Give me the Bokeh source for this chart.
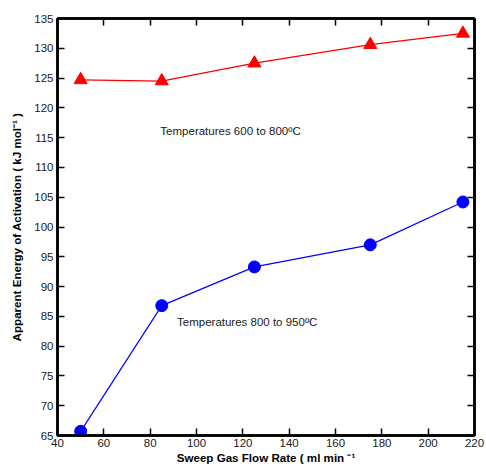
from bokeh.plotting import figure
from bokeh.models import LinearAxis, Label, FixedTicker, Range1d
from bokeh.embed import file_html
from bokeh.resources import INLINE

flow_rates = [50, 85, 125, 175, 215]
energy_600_800 = [124.7, 124.5, 127.5, 130.6, 132.5]
energy_800_950 = [65.7, 86.8, 93.3, 97.0, 104.2]
x_ticks = [40, 60, 80, 100, 120, 140, 160, 180, 200, 220]
y_ticks = [65, 70, 75, 80, 85, 90, 95, 100, 105, 110, 115, 120, 125, 130, 135]

FONT = "Liberation Sans"

p = figure(width=486, height=466, output_backend="svg", toolbar_location=None,
           x_range=Range1d(40, 220), y_range=Range1d(65, 135),
           min_border_left=57, min_border_right=12, min_border_top=18, min_border_bottom=31,
           background_fill_color="white", border_fill_color="white")
p.grid.visible = False
p.outline_line_color = "black"
p.outline_line_width = 2.5

def style_axis(ax, labels=True):
    ax.axis_line_width = 2.5
    ax.axis_line_color = "black"
    ax.major_tick_in = 7
    ax.major_tick_out = 0
    ax.major_tick_line_width = 1.5
    ax.major_tick_line_color = "black"
    ax.minor_tick_line_color = None
    ax.major_label_text_font = FONT
    ax.major_label_text_color = "#1a1a1a"
    ax.major_label_text_font_size = "11.5px"
    ax.axis_label_text_font = FONT
    ax.axis_label_text_font_size = "11.6px"
    ax.axis_label_text_font_style = "bold"
    ax.axis_label_text_color = "black"
    if not labels:
        ax.major_label_overrides = {t: "" for t in ax.ticker.ticks}
        ax.major_label_standoff = 0

p.xaxis.ticker = FixedTicker(ticks=x_ticks)
p.yaxis.ticker = FixedTicker(ticks=y_ticks)
style_axis(p.xaxis[0])
style_axis(p.yaxis[0])
p.yaxis[0].major_label_standoff = 4
p.yaxis[0].axis_label = "Apparent Energy of Activation ( kJ mol\u207b\u00b9 )"
p.yaxis[0].axis_label_standoff = 8
p.xaxis[0].major_label_standoff = 3
p.xaxis[0].axis_label = "Sweep Gas Flow Rate ( ml min \u207b\u00b9"
p.xaxis[0].axis_label_standoff = 1

top = LinearAxis(ticker=FixedTicker(ticks=x_ticks))
right = LinearAxis(ticker=FixedTicker(ticks=y_ticks))
style_axis(top, labels=False)
style_axis(right, labels=False)
p.add_layout(top, "above")
p.add_layout(right, "right")

p.line(flow_rates, energy_600_800, color="#ff0000", line_width=1.2)
p.scatter(flow_rates, energy_600_800, marker="triangle", size=13, color="#ff0000")
p.line(flow_rates, energy_800_950, color="#0000ff", line_width=1.2)
p.scatter(flow_rates, energy_800_950, marker="circle", size=12, color="#0000ff")

p.add_layout(Label(x=84.4, y=116.1, text="Temperatures 600 to 800\u00baC",
                   text_font=FONT, text_font_size="11.5px", text_color="#1a1a1a",
                   text_baseline="alphabetic"))
p.add_layout(Label(x=91.6, y=84.0, text="Temperatures 800 to 950\u00baC",
                   text_font=FONT, text_font_size="11.5px", text_color="#1a1a1a",
                   text_baseline="alphabetic"))

open("out.html", "w").write(file_html(p, INLINE))
